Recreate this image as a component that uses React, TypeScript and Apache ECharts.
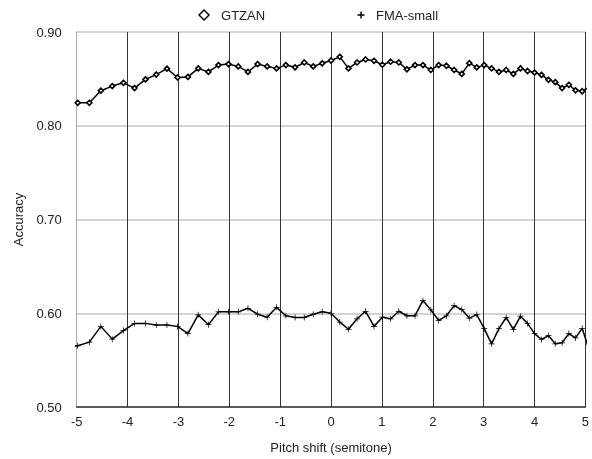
import React, { useEffect, useRef } from "react";
import * as echarts from "echarts";

const pitchShift = [-5.213, -4.98, -4.751, -4.525, -4.301, -4.081, -3.863, -3.648, -3.436, -3.226, -3.018, -2.814, -2.611, -2.411, -2.213, -2.017, -1.824, -1.633, -1.444, -1.256, -1.071, -0.888, -0.707, -0.527, -0.35, -0.174, 0, 0.172, 0.343, 0.512, 0.679, 0.845, 1.009, 1.171, 1.332, 1.492, 1.65, 1.807, 1.962, 2.116, 2.268, 2.42, 2.57, 2.718, 2.865, 3.011, 3.156, 3.3, 3.443, 3.584, 3.724, 3.863, 4.001, 4.138, 4.274, 4.408, 4.542, 4.675, 4.806, 4.937, 5.067];

const gtzan = [0.824, 0.8245, 0.8245, 0.8374, 0.8423, 0.8458, 0.8402, 0.8494, 0.8546, 0.8609, 0.8515, 0.8521, 0.8612, 0.8574, 0.8647, 0.8658, 0.8633, 0.8574, 0.8658, 0.8633, 0.8612, 0.8647, 0.8623, 0.8675, 0.8633, 0.8666, 0.8696, 0.8735, 0.8612, 0.8675, 0.8707, 0.8693, 0.8651, 0.8683, 0.8675, 0.8602, 0.8647, 0.8647, 0.8595, 0.8647, 0.864, 0.8595, 0.8553, 0.8668, 0.8623, 0.8647, 0.8612, 0.8574, 0.8595, 0.8553, 0.8612, 0.8584, 0.8567, 0.8542, 0.849, 0.8465, 0.8402, 0.8437, 0.8378, 0.8368, 0.841];

const fmaSmall = [0.564, 0.5653, 0.5692, 0.586, 0.5724, 0.5815, 0.5892, 0.5892, 0.5874, 0.5874, 0.586, 0.5783, 0.5983, 0.5878, 0.6015, 0.6015, 0.6015, 0.6053, 0.599, 0.5958, 0.6063, 0.5973, 0.5955, 0.5955, 0.599, 0.6016, 0.6, 0.5906, 0.5829, 0.5941, 0.6021, 0.586, 0.5958, 0.5941, 0.6021, 0.5973, 0.5973, 0.6137, 0.6036, 0.5923, 0.5973, 0.6081, 0.6039, 0.5948, 0.5986, 0.5836, 0.5674, 0.5836, 0.5955, 0.5829, 0.5969, 0.5892, 0.5783, 0.572, 0.5762, 0.5674, 0.5685, 0.5783, 0.5737, 0.5839, 0.562];

const seriesNames = ["GTZAN", "FMA-small"];

const PLUS = "path://M4.4,0H5.6V4.4H10V5.6H5.6V10H4.4V5.6H0V4.4H4.4Z";
const PLUS_LEGEND = "path://M4,0H6V4H10V6H6V10H4V6H0V4H4Z";
const FONT = "'Liberation Sans', Arial, sans-serif";
const TEXT = { fontFamily: FONT, fontSize: 13, color: "#222" };

export default function App() {
  const ref = useRef<HTMLDivElement>(null);
  useEffect(() => {
    if (!ref.current) return;
    const chart = echarts.init(ref.current, undefined, { renderer: "svg" });
    const pair = (ys: number[]) => pitchShift.map((x, i) => [x, ys[i]]);
    chart.setOption({
      animation: false,
      textStyle: { fontFamily: FONT, color: "#222" },
      legend: [
        {
          top: 8.5,
          left: 198.3,
          padding: 0,
          itemWidth: 10,
          itemHeight: 10,
          textStyle: { ...TEXT, padding: [0, 0, 0, 7] },
          data: [{ name: seriesNames[0], icon: "diamond", itemStyle: { color: "#fff", borderColor: "#000", borderWidth: 1.5 } }],
        },
        {
          top: 8.5,
          left: 357.5,
          padding: 0,
          itemWidth: 7,
          itemHeight: 7,
          textStyle: { ...TEXT, padding: [0, 0, 0, 6.5] },
          data: [{ name: seriesNames[1], icon: PLUS_LEGEND, itemStyle: { color: "#000", borderWidth: 0 } }],
        },
      ],
      grid: { left: 76.7, right: 2.5, top: 32, bottom: 46.5 },
      xAxis: {
        type: "value",
        min: -5,
        max: 5,
        interval: 1,
        name: "Pitch shift (semitone)",
        nameLocation: "middle",
        nameGap: 34,
        nameTextStyle: TEXT,
        axisLine: { show: true, lineStyle: { color: "#333", width: 1.5 } },
        axisTick: { show: false },
        axisLabel: { ...TEXT, margin: 8, showMinLabel: true, showMaxLabel: true },
        splitLine: { show: true, lineStyle: { color: "#333", width: 1 } },
      },
      yAxis: {
        type: "value",
        min: 0.5,
        max: 0.9,
        interval: 0.1,
        name: "Accuracy",
        nameLocation: "middle",
        nameGap: 52,
        nameTextStyle: TEXT,
        axisLine: { show: true, onZero: false, lineStyle: { color: "#aaa", width: 1 } },
        axisTick: { show: false },
        axisLabel: { ...TEXT, margin: 15, formatter: (v: number) => v.toFixed(2) },
        splitLine: { show: true, lineStyle: { color: "#c4c4c4", width: 1.5 } },
      },
      series: [
        {
          name: seriesNames[0],
          type: "line",
          data: pair(gtzan),
          clip: true,
          symbol: "diamond",
          symbolSize: 5,
          itemStyle: { color: "#fff", borderColor: "#000", borderWidth: 1.6 },
          lineStyle: { color: "#000", width: 1.5 },
          z: 3,
        },
        {
          name: seriesNames[1],
          type: "line",
          data: pair(fmaSmall),
          clip: true,
          symbol: PLUS,
          symbolSize: 6,
          itemStyle: { color: "#000", borderWidth: 0 },
          lineStyle: { color: "#000", width: 1.5 },
          z: 3,
        },
      ],
    });
    return () => chart.dispose();
  }, []);
  return <div ref={ref} style={{ position: "fixed", left: 0, top: 0, width: 592, height: 459 }} />;
}
